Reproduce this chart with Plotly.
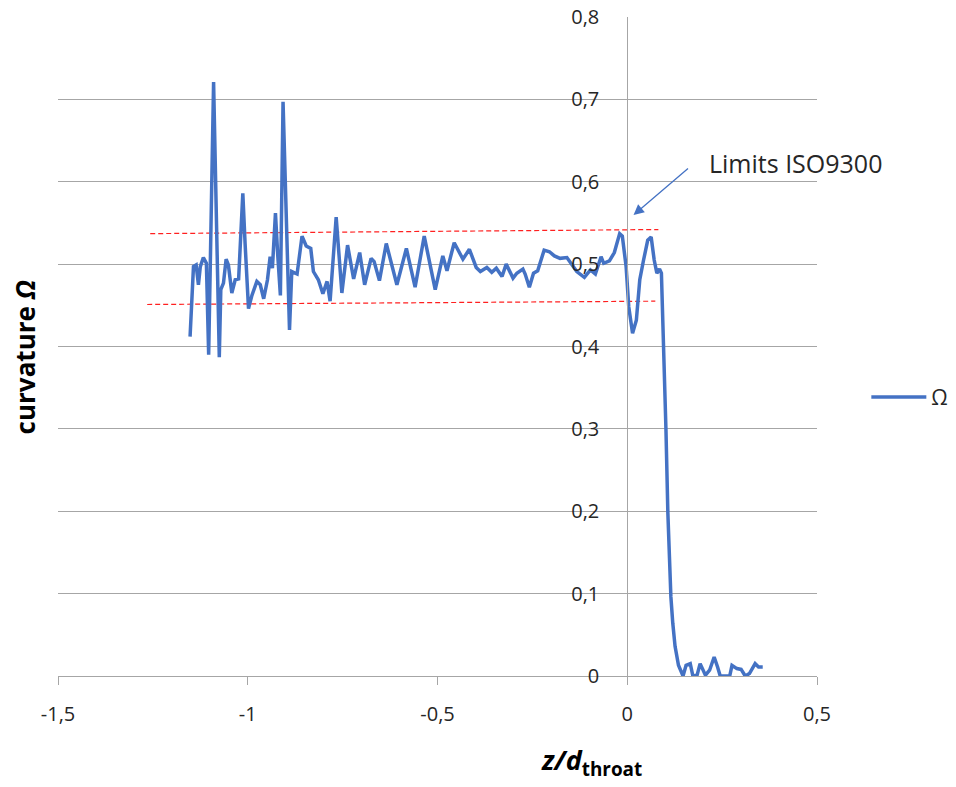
import plotly.graph_objects as go

z_values = [
    -1.152, -1.143, -1.136, -1.130, -1.125, -1.117, -1.109, -1.103, -1.090, -1.075,
    -1.071, -1.064, -1.057, -1.051, -1.042, -1.033, -1.024, -1.013, -1.007, -0.998,
    -0.989, -0.976, -0.967, -0.958, -0.948, -0.941, -0.935, -0.927, -0.921, -0.914,
    -0.907, -0.890, -0.884, -0.870, -0.857, -0.846, -0.834, -0.827, -0.814, -0.802,
    -0.791, -0.783, -0.767, -0.752, -0.737, -0.721, -0.705, -0.692, -0.675, -0.667,
    -0.653, -0.635, -0.607, -0.582, -0.559, -0.535, -0.506, -0.486, -0.475, -0.456,
    -0.433, -0.416, -0.398, -0.387, -0.370, -0.357, -0.345, -0.330, -0.319, -0.301,
    -0.291, -0.275, -0.269, -0.258, -0.247, -0.236, -0.219, -0.205, -0.192, -0.177,
    -0.159, -0.146, -0.133, -0.113, -0.097, -0.084, -0.069, -0.062, -0.047, -0.034,
    -0.020, -0.013, -0.003, 0.004, 0.014, 0.024, 0.033, 0.043, 0.054, 0.063,
    0.071, 0.078, 0.085, 0.090, 0.096, 0.102, 0.107, 0.115, 0.120, 0.126,
    0.135, 0.147, 0.155, 0.166, 0.173, 0.184, 0.192, 0.206, 0.217, 0.229,
    0.238, 0.245, 0.270, 0.276, 0.289, 0.300, 0.311, 0.322, 0.337, 0.346,
    0.357,
]
omega_values = [
    0.412, 0.497, 0.499, 0.475, 0.497, 0.508, 0.501, 0.390, 0.721, 0.387,
    0.469, 0.477, 0.506, 0.499, 0.465, 0.481, 0.482, 0.586, 0.525, 0.446,
    0.462, 0.479, 0.475, 0.458, 0.481, 0.509, 0.495, 0.562, 0.511, 0.462,
    0.697, 0.420, 0.491, 0.488, 0.534, 0.522, 0.519, 0.491, 0.481, 0.464,
    0.479, 0.455, 0.557, 0.465, 0.523, 0.482, 0.514, 0.475, 0.507, 0.503,
    0.480, 0.525, 0.475, 0.519, 0.472, 0.534, 0.469, 0.510, 0.492, 0.526,
    0.506, 0.518, 0.496, 0.491, 0.496, 0.490, 0.495, 0.485, 0.500, 0.483,
    0.489, 0.494, 0.488, 0.472, 0.489, 0.492, 0.517, 0.515, 0.510, 0.507,
    0.508, 0.499, 0.491, 0.484, 0.493, 0.488, 0.509, 0.501, 0.504, 0.514,
    0.537, 0.534, 0.497, 0.448, 0.416, 0.432, 0.481, 0.505, 0.529, 0.533,
    0.505, 0.489, 0.494, 0.489, 0.400, 0.299, 0.198, 0.096, 0.064, 0.036,
    0.013, 0.000, 0.013, 0.015, 0.000, 0.001, 0.015, 0.001, 0.007, 0.023,
    0.011, 0.000, 0.000, 0.013, 0.009, 0.008, 0.000, 0.003, 0.015, 0.011,
    0.011,
]

upper_limit_x = [-1.257, 0.082]
upper_limit_y = [0.537, 0.542]
lower_limit_x = [-1.265, 0.074]
lower_limit_y = [0.451, 0.455]

x_ticks = [-1.5, -1.0, -0.5, 0.0, 0.5]
x_tick_labels = ["-1,5", "-1", "-0,5", "0", "0,5"]
y_ticks = [0, 0.1, 0.2, 0.3, 0.4, 0.5, 0.6, 0.7, 0.8]
y_tick_labels = ["0", "0,1", "0,2", "0,3", "0,4", "0,5", "0,6", "0,7", "0,8"]

FONT = "Open Sans"
BLUE = "#4472C4"
GRID = "#A6A6A6"

fig = go.Figure()
fig.add_trace(go.Scatter(x=upper_limit_x, y=upper_limit_y, mode="lines",
                         line=dict(color="#FF2020", width=1.2, dash="5px,3px"),
                         showlegend=False, hoverinfo="skip"))
fig.add_trace(go.Scatter(x=lower_limit_x, y=lower_limit_y, mode="lines",
                         line=dict(color="#FF2020", width=1.2, dash="5px,3px"),
                         showlegend=False, hoverinfo="skip"))
fig.add_trace(go.Scatter(x=z_values, y=omega_values, mode="lines", name="Ω",
                         line=dict(color=BLUE, width=3.5)))

fig.update_layout(
    width=956, height=787,
    margin=dict(l=50, r=147, t=9, b=119),
    plot_bgcolor="white", paper_bgcolor="white",
    separators=",.",
    font=dict(family=FONT, size=20, color="#262626"),
    xaxis=dict(range=[-1.5, 0.5], tickvals=x_ticks, ticktext=x_tick_labels,
               showgrid=False, zeroline=False, automargin=False,
               showline=True, linecolor=GRID, linewidth=1,
               ticks="outside", ticklen=8, tickcolor=GRID, tickwidth=1,
               ticklabelstandoff=12, tickfont=dict(size=20),
               ticklabeloverflow="allow"),
    yaxis=dict(range=[0, 0.8], tickvals=y_ticks, ticktext=y_tick_labels,
               showgrid=True, gridcolor=GRID, automargin=False,
               gridwidth=1, zeroline=False, anchor="free", position=0.75,
               showline=True, linecolor=GRID, linewidth=1, ticks="",
               ticklabelstandoff=24, tickfont=dict(size=20),
               ticklabeloverflow="allow"),
    legend=dict(x=1.065, y=0.423, xanchor="left", yanchor="middle",
                font=dict(size=21, family=FONT), itemwidth=55,
                bgcolor="rgba(0,0,0,0)"),
    annotations=[
        dict(x=0.0166, y=0.5596, xref="x", yref="y", ax=0.164, ay=0.6175,
             axref="x", ayref="y", text="", showarrow=True, arrowhead=2,
             arrowsize=1.6, arrowwidth=1.3, arrowcolor=BLUE),
        dict(x=0.21, y=0.623, xref="x", yref="y", text="Limits ISO9300",
             showarrow=False, xanchor="left", yanchor="middle",
             font=dict(size=25, family=FONT, color="#262626")),
        dict(x=0.703, y=-0.13, xref="paper", yref="paper",
             text="<b><i>z/d</i></b><sub><b>throat</b></sub>",
             showarrow=False, xanchor="center", yanchor="middle",
             font=dict(size=27, family=FONT, color="#000000")),
        dict(x=-0.043, y=0.484, xref="paper", yref="paper",
             text="<b>curvature <i>Ω</i></b>", textangle=-90,
             showarrow=False, xanchor="center", yanchor="middle",
             font=dict(size=26, family=FONT, color="#000000")),
    ],
)

fig.write_html("out.html")
